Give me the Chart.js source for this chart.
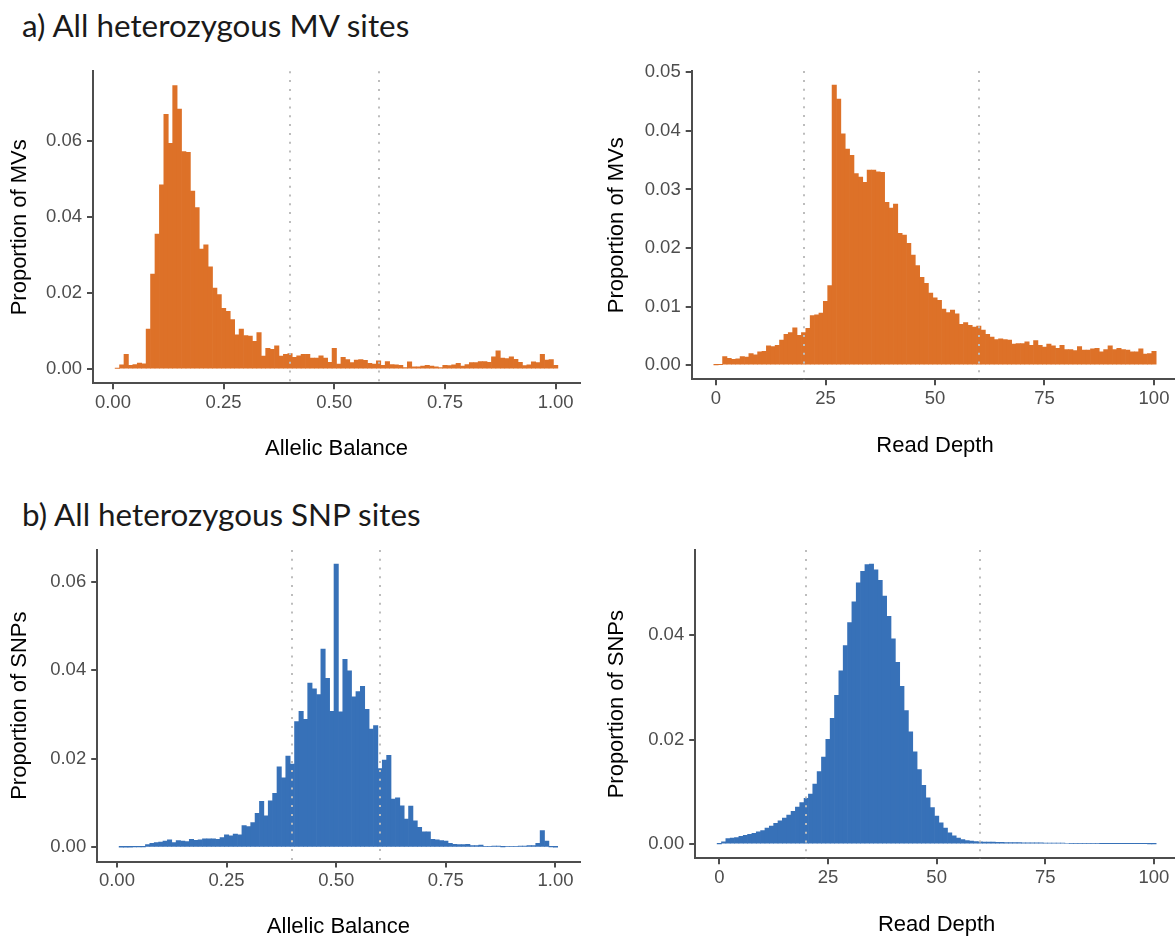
<!DOCTYPE html>
<html>
<head>
<meta charset="utf-8">
<script src="https://cdn.jsdelivr.net/npm/chart.js@4.4.0/dist/chart.umd.min.js"></script>
<style>
  html, body { margin: 0; padding: 0; background: #fff; width: 1175px; height: 936px; overflow: hidden; }
  canvas { position: absolute; }
  .heading { position: absolute; left: 22px; font-family: Lato, "Open Sans", sans-serif; font-size: 31.4px; line-height: 31.4px; color: #1a1a1a; white-space: nowrap; }
</style>
</head>
<body>
<div class="heading" style="top:10px">a) All heterozygous MV sites</div>
<div class="heading" style="top:499px">b) All heterozygous SNP sites</div>
<canvas id="mvBalanceChart"></canvas>
<canvas id="mvDepthChart"></canvas>
<canvas id="snpBalanceChart"></canvas>
<canvas id="snpDepthChart"></canvas>
<script>
// allelic balance bins: 0.01 .. 1.00 (100 bins of width 0.01)
const balanceBins = Array.from({ length: 100 }, (_, i) => (i + 1) / 100);
// read depth bins: 0 .. 100
const depthBins = Array.from({ length: 101 }, (_, i) => i);

const mvBalance = [
  0.0002, 0.0011, 0.0039, 0.0010, 0.0012, 0.0016, 0.0014, 0.0105, 0.0250, 0.0355,
  0.0485, 0.0670, 0.0594, 0.0746, 0.0684, 0.0572, 0.0570, 0.0468, 0.0425, 0.0316,
  0.0327, 0.0269, 0.0213, 0.0196, 0.0160, 0.0152, 0.0130, 0.0090, 0.0105, 0.0088,
  0.0087, 0.0073, 0.0096, 0.0034, 0.0055, 0.0052, 0.0061, 0.0034, 0.0039, 0.0041,
  0.0031, 0.0035, 0.0039, 0.0039, 0.0029, 0.0029, 0.0035, 0.0029, 0.0018, 0.0055,
  0.0013, 0.0031, 0.0025, 0.0017, 0.0024, 0.0025, 0.0023, 0.0015, 0.0013, 0.0022,
  0.0010, 0.0020, 0.0012, 0.0011, 0.0010, 0.0004, 0.0019, 0.0006, 0.0006, 0.0008,
  0.0010, 0.0008, 0.0006, 0.0004, 0.0010, 0.0009, 0.0011, 0.0015, 0.0008, 0.0012,
  0.0017, 0.0017, 0.0020, 0.0020, 0.0018, 0.0032, 0.0048, 0.0029, 0.0028, 0.0032,
  0.0026, 0.0018, 0.0009, 0.0011, 0.0019, 0.0017, 0.0039, 0.0024, 0.0025, 0.0010
];

const mvDepth = [
  0.00005, 0.0001, 0.0015, 0.0012, 0.0010, 0.0011, 0.0015, 0.0014, 0.0020, 0.0018,
  0.0023, 0.0024, 0.0033, 0.0032, 0.0034, 0.0043, 0.0053, 0.0056, 0.0064, 0.0051,
  0.0056, 0.0063, 0.0085, 0.0086, 0.0089, 0.0109, 0.0136, 0.0478, 0.0454, 0.0395,
  0.0369, 0.0358, 0.0327, 0.0321, 0.0312, 0.0333, 0.0333, 0.0330, 0.0329, 0.0278,
  0.0268, 0.0275, 0.0225, 0.0222, 0.0208, 0.0188, 0.0170, 0.0150, 0.0140, 0.0123,
  0.0115, 0.0111, 0.0096, 0.0090, 0.0094, 0.0088, 0.0070, 0.0073, 0.0068, 0.0065,
  0.0067, 0.0060, 0.0053, 0.0048, 0.0044, 0.0045, 0.0044, 0.0043, 0.0036, 0.0037,
  0.0037, 0.0040, 0.0034, 0.0042, 0.0034, 0.0031, 0.0036, 0.0033, 0.0029, 0.0034,
  0.0027, 0.0027, 0.0025, 0.0032, 0.0026, 0.0026, 0.0028, 0.0029, 0.0023, 0.0027,
  0.0033, 0.0027, 0.0029, 0.0027, 0.0026, 0.0023, 0.0023, 0.0028, 0.0019, 0.0020,
  0.0024
];

const snpBalance = [
  0.00005, 0.00006, 0.00006, 0.00007, 0.00008, 0.0001, 0.0006, 0.0009, 0.0011, 0.0012,
  0.0014, 0.0017, 0.0011, 0.0015, 0.0014, 0.0013, 0.0018, 0.0016, 0.0017, 0.0019,
  0.0019, 0.0019, 0.0018, 0.0022, 0.0028, 0.0026, 0.0030, 0.0028, 0.0049, 0.0047,
  0.0056, 0.0077, 0.0104, 0.0071, 0.0105, 0.0122, 0.0182, 0.0157, 0.0206, 0.0188,
  0.0284, 0.0307, 0.0289, 0.0371, 0.0358, 0.0345, 0.0448, 0.0382, 0.0307, 0.0640,
  0.0306, 0.0425, 0.0399, 0.0340, 0.0352, 0.0364, 0.0312, 0.0267, 0.0275, 0.0178,
  0.0197, 0.0208, 0.0109, 0.0112, 0.0094, 0.0064, 0.0093, 0.0060, 0.0045, 0.0035,
  0.0035, 0.0018, 0.0017, 0.0015, 0.0014, 0.0009, 0.0007, 0.0006, 0.0006, 0.0007,
  0.0004, 0.0004, 0.0005, 0.0002, 0.0002, 0.0003, 0.0003, 0.0001, 0.0002, 0.0002,
  0.0002, 0.0003, 0.0003, 0.0004, 0.0004, 0.0009, 0.0038, 0.0014, 0.0001, 0.00005
];

const snpDepth = [
  0.00005, 0.00045, 0.0011, 0.0012, 0.0013, 0.0015, 0.0017, 0.0019, 0.0021, 0.0024,
  0.0026, 0.0031, 0.0035, 0.0040, 0.0045, 0.0050, 0.0056, 0.0063, 0.0071, 0.0080,
  0.0088, 0.0096, 0.0115, 0.0139, 0.0167, 0.0201, 0.0241, 0.0285, 0.0332, 0.0380,
  0.0424, 0.0464, 0.0500, 0.0522, 0.0535, 0.0536, 0.0525, 0.0505, 0.0475, 0.0436,
  0.0393, 0.0348, 0.0302, 0.0256, 0.0215, 0.0177, 0.0143, 0.0113, 0.0089, 0.0070,
  0.0054, 0.0041, 0.0031, 0.0022, 0.0016, 0.0012, 0.0009, 0.0007, 0.0006, 0.0005,
  0.00045, 0.00043, 0.00041, 0.0004, 0.00038, 0.00037, 0.00035, 0.00034, 0.00033, 0.00031,
  0.0003, 0.00029, 0.00028, 0.00027, 0.00026, 0.00025, 0.00024, 0.00023, 0.00022, 0.00021,
  0.0002, 0.00019, 0.00019, 0.00018, 0.00017, 0.00016, 0.00016, 0.00015, 0.00014, 0.00014,
  0.00013, 0.00013, 0.00012, 0.00012, 0.00011, 0.00011, 0.0001, 0.0001, 0.0001, 0.00009,
  0.00009
];

const balanceTicks = [0, 0.25, 0.5, 0.75, 1];
const depthTicks = [0, 25, 50, 75, 100];
const mvBalanceYTicks = [0, 0.02, 0.04, 0.06];
const mvDepthYTicks = [0, 0.01, 0.02, 0.03, 0.04, 0.05];
const snpBalanceYTicks = [0, 0.02, 0.04, 0.06];
const snpDepthYTicks = [0, 0.02, 0.04];
const balanceCutoffs = [0.4, 0.6];
const depthCutoffs = [20, 60];

const mvColor = '#dd7128';
const snpColor = '#3771b8';
const axisGrey = '#4d4d4d';
const sans = "'Liberation Sans', Arial, sans-serif";

// vertical dotted cut-off lines over the bars
const cutoffLines = {
  id: 'cutoffs',
  afterDatasetsDraw(chart, args, opts) {
    const { ctx, chartArea, scales } = chart;
    ctx.save();
    ctx.strokeStyle = '#bdbdbd';
    ctx.lineWidth = 2;
    ctx.setLineDash([2, 6.8]);
    (opts.at || []).forEach(v => {
      const px = Math.round(scales.x.getPixelForValue(v));
      ctx.beginPath();
      ctx.moveTo(px, chartArea.top);
      ctx.lineTo(px, chartArea.bottom);
      ctx.stroke();
    });
    ctx.restore();
  }
};

function histPanel(id, p) {
  const el = document.getElementById(id);
  const [bx, by, bw, bh] = p.box;
  el.width = bw;
  el.height = bh;
  el.style.left = bx + 'px';
  el.style.top = by + 'px';

  const peak = Math.max(...p.values);
  const axisStyle = {
    grid: { display: true, offset: false, drawOnChartArea: false, drawTicks: true, tickLength: 6, color: axisGrey, lineWidth: 2 },
    border: { display: true, color: axisGrey, width: 2 }
  };

  new Chart(el, {
    type: 'bar',
    data: {
      datasets: [{
        data: p.values.map((v, i) => ({ x: p.bins[i], y: v })),
        backgroundColor: p.color,
        borderWidth: 0,
        barPercentage: 1,
        categoryPercentage: 1
      }]
    },
    options: {
      responsive: false,
      animation: false,
      events: [],
      layout: {
        padding: { top: p.area.top - by, right: bx + bw - p.area.right, left: 0, bottom: 0 }
      },
      plugins: {
        legend: { display: false },
        tooltip: { enabled: false },
        cutoffs: { at: p.cutoffs }
      },
      scales: {
        x: {
          type: 'linear',
          offset: false,
          min: p.xRange[0],
          max: p.xRange[1],
          afterFit: s => { s.height = by + bh - p.area.bottom; },
          afterBuildTicks: s => { s.ticks = p.xTicks.map(v => ({ value: v })); },
          ticks: { callback: p.xFormat, color: axisGrey, font: { family: sans, size: 18.5 }, padding: 2.4, autoSkip: false, maxRotation: 0 },
          title: { display: true, text: p.xTitle, color: '#000', font: { family: sans, size: 22 }, padding: { top: 0, bottom: 0 } },
          ...axisStyle
        },
        y: {
          min: -0.05 * peak,
          max: 1.05 * peak,
          afterFit: s => { s.width = p.area.left - bx; },
          afterBuildTicks: s => { s.ticks = p.yTicks.map(v => ({ value: v })); },
          ticks: { callback: v => v.toFixed(2), color: axisGrey, font: { family: sans, size: 18.5 }, padding: 5 },
          title: { display: true, text: p.yTitle, color: '#000', font: { family: sans, size: 22 }, padding: { top: p.yTitlePad, bottom: 0 } },
          ...axisStyle
        }
      }
    },
    plugins: [cutoffLines]
  });
}

const balanceRange = [-0.045, 1.055];
const depthRange = [-5.55, 105.55];

histPanel('mvBalanceChart', {
  box: [0, 45, 590, 417], area: { left: 93, right: 580, top: 71.3, bottom: 383.3 },
  bins: balanceBins, values: mvBalance, color: mvColor,
  xRange: balanceRange, xTicks: balanceTicks, xFormat: v => v.toFixed(2), cutoffs: balanceCutoffs,
  yTicks: mvBalanceYTicks, xTitle: 'Allelic Balance', yTitle: 'Proportion of MVs', yTitlePad: 6.8
});

histPanel('mvDepthChart', {
  box: [600, 45, 585, 414], area: { left: 691.7, right: 1178.3, top: 71.1, bottom: 379.3 },
  bins: depthBins, values: mvDepth, color: mvColor,
  xRange: depthRange, xTicks: depthTicks, xFormat: v => String(v), cutoffs: depthCutoffs,
  yTicks: mvDepthYTicks, xTitle: 'Read Depth', yTitle: 'Proportion of MVs', yTitlePad: 3.8
});

histPanel('snpBalanceChart', {
  box: [0, 520, 590, 420], area: { left: 97.2, right: 579.6, top: 549.9, bottom: 861.5 },
  bins: balanceBins, values: snpBalance, color: snpColor,
  xRange: balanceRange, xTicks: balanceTicks, xFormat: v => v.toFixed(2), cutoffs: balanceCutoffs,
  yTicks: snpBalanceYTicks, xTitle: 'Allelic Balance', yTitle: 'Proportion of SNPs', yTitlePad: 6.8
});

histPanel('snpDepthChart', {
  box: [600, 520, 585, 418], area: { left: 695.2, right: 1178.1, top: 550.1, bottom: 858.3 },
  bins: depthBins, values: snpDepth, color: snpColor,
  xRange: depthRange, xTicks: depthTicks, xFormat: v => String(v), cutoffs: depthCutoffs,
  yTicks: snpDepthYTicks, xTitle: 'Read Depth', yTitle: 'Proportion of SNPs', yTitlePad: 3.8
});
</script>
</body>
</html>
